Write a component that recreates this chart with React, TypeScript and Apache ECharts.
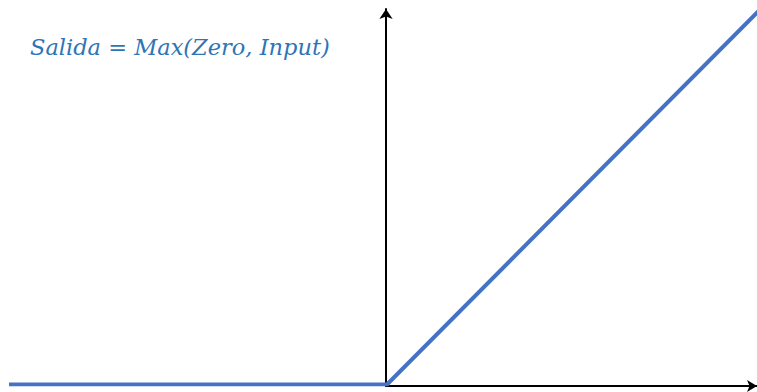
import React, { useEffect, useRef } from "react";
import * as echarts from "echarts";

// ReLU: output = max(0, input)
const inputs = [-10, 0, 10];
const outputs = [0, 0, 10];
const formula = "Salida = Max(Zero, Input)";

export default function App() {
  const ref = useRef<HTMLDivElement>(null);

  useEffect(() => {
    if (!ref.current) return;
    const chart = echarts.init(ref.current, null, { renderer: "svg" });
    chart.setOption({
      animation: false,
      backgroundColor: "#ffffff",
      title: {
        text: formula,
        left: 25,
        top: 30,
        textStyle: {
          fontFamily: "DejaVu Serif",
          fontStyle: "italic",
          fontWeight: "normal",
          fontSize: 22.5,
          color: "#2E75B6",
        },
      },
      grid: [
        // plotting area for the function; the right end is cut by the frame
        { left: 9, right: 0, top: 4.6, bottom: 7.5 },
        // area that carries the visible arrowed axes
        { left: 386, right: 0, top: 9, bottom: 6 },
      ],
      xAxis: [
        { type: "value", gridIndex: 0, min: -10, max: 9.79, show: false },
        {
          type: "value",
          gridIndex: 1,
          min: 0,
          max: 1,
          axisLine: {
            show: true,
            onZero: false,
            symbol: ["none", "arrow"],
            symbolSize: [9, 10],
            lineStyle: { color: "#000", width: 2 },
          },
          axisTick: { show: false },
          axisLabel: { show: false },
          splitLine: { show: false },
        },
      ],
      yAxis: [
        { type: "value", gridIndex: 0, min: 0, max: 10, show: false },
        {
          type: "value",
          gridIndex: 1,
          min: 0,
          max: 1,
          axisLine: {
            show: true,
            onZero: false,
            symbol: ["none", "arrow"],
            symbolSize: [10, 10],
            lineStyle: { color: "#000", width: 2 },
          },
          axisTick: { show: false },
          axisLabel: { show: false },
          splitLine: { show: false },
        },
      ],
      series: [
        {
          type: "line",
          xAxisIndex: 0,
          yAxisIndex: 0,
          data: inputs.map((x, i) => [x, outputs[i]]),
          showSymbol: false,
          symbol: "none",
          clip: true,
          lineStyle: { color: "#4472C4", width: 4 },
          z: 3,
        },
      ],
    });
    return () => chart.dispose();
  }, []);

  return (
    <div
      ref={ref}
      style={{ position: "fixed", left: 0, top: 0, width: 757, height: 392 }}
    />
  );
}
